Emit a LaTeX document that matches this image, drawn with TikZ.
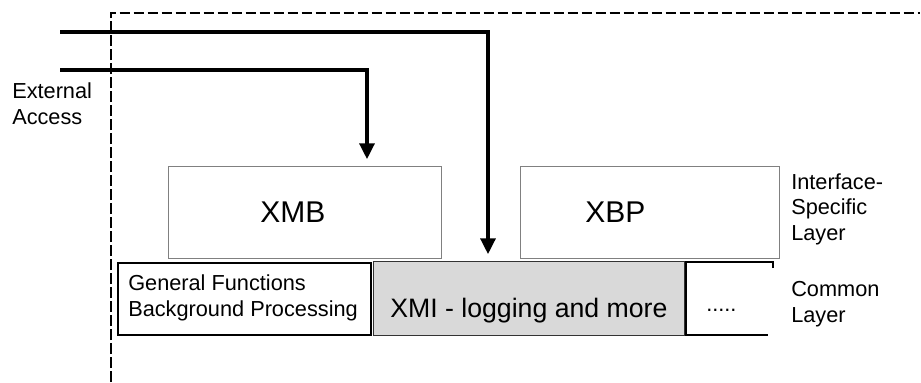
\documentclass[tikz,border=0pt]{standalone}
\usepackage{fontspec}
\setmainfont{Liberation Sans}
\usetikzlibrary{arrows.meta}
\definecolor{boxgray}{HTML}{808080}
\definecolor{fillgray}{HTML}{D9D9D9}
\tikzset{
  thick arrow/.style={line width=3.2pt, -{Triangle[length=12pt,width=11pt]}, shorten >=5pt},
  boundary/.style={line width=1.5pt, dash pattern=on 8pt off 2.5pt},
  upperbox/.style={draw=boxgray, line width=0.9pt, inner sep=0pt},
  lowerbox/.style={draw=black, line width=1.5pt, inner sep=0pt},
  greybox/.style={draw=black!80, fill=fillgray, line width=0.8pt, inner sep=0pt},
  smalltxt/.style={font=\fontsize{16.3pt}{18.8pt}\selectfont, inner sep=0pt, anchor=base west, align=left},
  bigtxt/.style={font=\fontsize{22.5pt}{26pt}\selectfont, inner sep=0pt, anchor=base west},
  midtxt/.style={font=\fontsize{20pt}{24pt}\selectfont, inner sep=0pt, anchor=base west},
}
\begin{document}
\begin{tikzpicture}[x=0.75pt,y=-0.75pt]
\useasboundingbox (0,0) rectangle (921,382);
% boundary
\draw[boundary] (111,382) -- (111,12.5) -- (920,12.5);
% boxes
\path (168,166) node[upperbox, anchor=north west, minimum width=273*0.75pt, minimum height=92*0.75pt] (xmb) {};
\path (520,166) node[upperbox, anchor=north west, minimum width=259*0.75pt, minimum height=92*0.75pt] (xbp) {};
\path (117,262) node[lowerbox, anchor=north west, minimum width=253*0.75pt, minimum height=72*0.75pt] (gf) {};
\path (373,261) node[greybox, anchor=north west, minimum width=311*0.75pt, minimum height=74*0.75pt] (xmi) {};
% open box for dots
\coordinate (d1) at (773,268);
\coordinate (d2) at (773,262);
\coordinate (d3) at (686,262);
\coordinate (d4) at (686,335);
\coordinate (d5) at (768,335);
\draw[line width=1.3pt] (d1) -- (d2) -- (d3) -- (d4) -- (d5);
% texts
\node[bigtxt] (txmb) at (260,222) {XMB};
\node[bigtxt] (txbp) at (585,222) {XBP};
\node[midtxt] (txmi) at (390,317) {XMI - logging and more};
\node[smalltxt] (tgf) at (128,316) {General Functions\\Background Processing};
\node[smalltxt] (tdots) at (706,311) {.....};
\node[smalltxt] (text) at (12,124) {External\\Access};
\node[smalltxt] (tisl) at (791,240) {Interface-\\Specific\\Layer};
\node[smalltxt] (tcl) at (791,322) {Common\\Layer};
% arrows
\coordinate (s1) at (60,32);
\coordinate (k1) at (488,32);
\coordinate (s2) at (60,70);
\coordinate (k2) at (367,70);
\draw[thick arrow] (s1) -- (k1) -- (k1 |- xmi.north);
\draw[thick arrow] (s2) -- (k2) -- (k2 |- xmb.north);
\end{tikzpicture}
\end{document}
